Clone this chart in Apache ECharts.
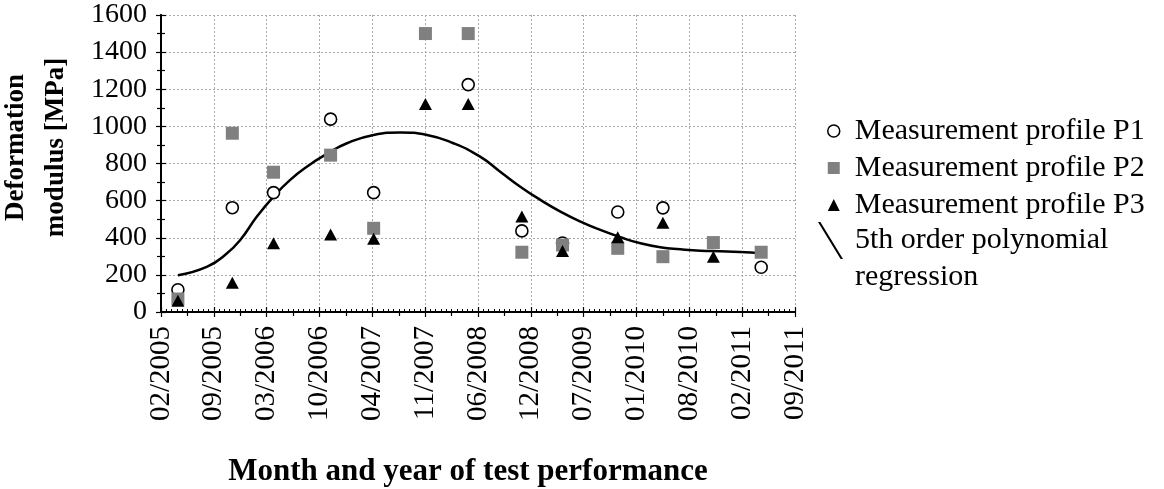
<!DOCTYPE html>
<html>
<head>
<meta charset="utf-8">
<script src="https://cdn.jsdelivr.net/npm/echarts@6/dist/echarts.min.js"></script>
<style>
  html, body { margin: 0; padding: 0; background: #fff; }
  #chart { width: 1164px; height: 489px; }
</style>
</head>
<body>
<div id="chart"></div>
<script>
// ---- Data (x = days after the 02/2005 tick; one tick step = 200 days) ----
const tickLabels = ['02/2005','09/2005','03/2006','10/2006','04/2007','11/2007','06/2008',
                    '12/2008','07/2009','01/2010','08/2010','02/2011','09/2011'];
const tickStepDays = 200;
const testDays = [64, 270, 426, 642, 805, 1001, 1163, 1366, 1520, 1729, 1900, 2091, 2272];
const profileP1 = [120, 562, 643, 1039, 643, null, 1225, 437, 372, 539, 561, null, 241];
const profileP2 = [70, 963, 753, 845, 451, 1500, 1500, 322, 361, 343, 298, 374, 322];
const profileP3 = [60, 158, 370, 417, 395, 1120, 1120, 514, 328, 403, 481, 298, null];
const curveDays = [64, 175, 250, 300, 363, 426, 489, 552, 628, 704, 805, 906, 1007, 1107, 1208,
                   1284, 1360, 1436, 1512, 1588, 1663, 1739, 1815, 1890, 1966, 2042, 2117, 2193, 2272];
const curveValues = [198, 244, 316, 388, 514, 622, 712, 783, 852, 909, 954, 967, 954, 909, 837,
                     756, 675, 604, 541, 487, 442, 403, 370, 349, 338, 330, 327, 323, 316];
const yMin = 0, yMax = 1600, yStep = 200;
const names = ['Measurement profile P1', 'Measurement profile P2', 'Measurement profile P3',
               '5th order polynomial regression'];

const pairs = (xs, ys) => xs.map((x, i) => [x, ys[i]]).filter(p => p[1] !== null);

const FONT = 'Liberation Serif';
const axisLineStyle = { color: '#000', width: 2 };
const legendText = { fontFamily: FONT, fontSize: 30, color: '#000' };

const chart = echarts.init(document.getElementById('chart'), null, { renderer: 'canvas' });
chart.setOption({
  animation: false,
  backgroundColor: '#fff',
  grid: { left: 161, right: 369, top: 15, bottom: 177, containLabel: false, outerBoundsMode: 'none' },
  legend: [
    {
      orient: 'vertical', left: 827, top: 116, padding: 0, itemGap: 7,
      itemWidth: 12, itemHeight: 12,
      data: [
        { name: names[0], icon: 'circle', itemStyle: { color: '#fff', borderColor: '#000', borderWidth: 1.5 } },
        { name: names[1], icon: 'rect' },
        { name: names[2], icon: 'triangle' }
      ],
      textStyle: Object.assign({ lineHeight: 30, padding: [0, 0, 0, 10] }, legendText)
    },
    {
      orient: 'vertical', left: 818, top: 222, padding: 0,
      itemWidth: 25, itemHeight: 74,
      data: [{ name: names[3], icon: 'path://M0,0L2.4,0L25,37L22.6,37ZM0,74L0.01,74L0,74Z' }],
      formatter: n => n.replace('polynomial ', 'polynomial\n'),
      textStyle: Object.assign({ lineHeight: 37, padding: [0, 0, 0, 7] }, legendText)
    }
  ],
  xAxis: [
    {
      type: 'value', position: 'bottom', min: 0, max: tickStepDays * (tickLabels.length - 1),
      interval: tickStepDays,
      name: 'Month and year of test performance', nameLocation: 'middle', nameGap: 144,
      nameTextStyle: { fontFamily: FONT, fontSize: 31, fontWeight: 'bold', color: '#000', padding: [0, 20, 0, 0] },
      axisLine: { lineStyle: axisLineStyle },
      axisTick: { show: true, inside: true, length: 5, lineStyle: { color: '#000', width: 1.2 } },
      minorTick: { show: true, splitNumber: 10, length: 3, lineStyle: { color: '#000', width: 1 } },
      axisLabel: {
        rotate: 90, margin: 14, fontFamily: FONT, fontSize: 29, color: '#000',
        formatter: v => tickLabels[Math.round(v / tickStepDays)]
      },
      splitLine: { show: true, lineStyle: { color: '#a8a8a8', width: 1, type: [2, 2] } }
    },
    {
      type: 'value', position: 'top', min: 0, max: tickStepDays * (tickLabels.length - 1),
      interval: tickStepDays,
      axisLine: { lineStyle: axisLineStyle },
      axisTick: { show: true, inside: true, length: 5, lineStyle: { color: '#000', width: 1.2 } },
      minorTick: { show: true, splitNumber: 2, length: 4, lineStyle: { color: '#000', width: 1.2 } },
      axisLabel: { show: false },
      splitLine: { show: false }
    }
  ],
  yAxis: [
    {
      type: 'value', position: 'left', min: yMin, max: yMax, interval: yStep,
      name: 'Deformation\nmodulus [MPa]', nameLocation: 'middle', nameGap: 85, nameRotate: 90,
      nameTextStyle: { fontFamily: FONT, fontSize: 27, fontWeight: 'bold', color: '#000', lineHeight: 40, padding: [0, 0, 0, 32] },
      axisLine: { lineStyle: axisLineStyle },
      axisTick: { show: true, inside: true, length: 5, lineStyle: { color: '#000', width: 1.2 } },
      minorTick: { show: true, splitNumber: 2, length: 4, lineStyle: { color: '#000', width: 1.2 } },
      axisLabel: { margin: 14, fontFamily: FONT, fontSize: 28, color: '#000', formatter: v => String(v) },
      splitLine: { show: true, lineStyle: { color: '#a8a8a8', width: 1, type: [2, 2] } }
    },
    {
      type: 'value', position: 'right', min: yMin, max: yMax, interval: yStep,
      axisLine: { lineStyle: axisLineStyle },
      axisTick: { show: true, inside: true, length: 5, lineStyle: { color: '#000', width: 1.2 } },
      minorTick: { show: true, splitNumber: 2, length: 4, lineStyle: { color: '#000', width: 1.2 } },
      axisLabel: { show: false },
      splitLine: { show: false }
    }
  ],
  series: [
    {
      name: names[3], type: 'line', smooth: true, showSymbol: false, symbol: 'none',
      data: pairs(curveDays, curveValues),
      lineStyle: { color: '#000', width: 2.5 }, itemStyle: { color: '#000' }, z: 2
    },
    {
      name: names[0], type: 'scatter', symbol: 'circle', symbolSize: 12,
      data: pairs(testDays, profileP1),
      itemStyle: { color: '#fff', borderColor: '#000', borderWidth: 1.6, opacity: 1 }, z: 3
    },
    {
      name: names[1], type: 'scatter', symbol: 'rect', symbolSize: 13,
      data: pairs(testDays, profileP2),
      itemStyle: { color: '#808080', opacity: 1 }, z: 4
    },
    {
      name: names[2], type: 'scatter', symbol: 'triangle', symbolSize: [13, 12],
      data: pairs(testDays, profileP3),
      itemStyle: { color: '#000', opacity: 1 }, z: 5
    }
  ]
});
</script>
</body>
</html>
